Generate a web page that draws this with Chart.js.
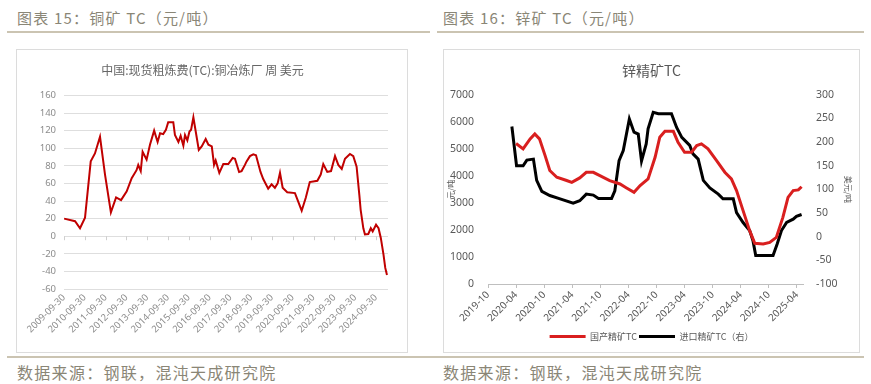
<!DOCTYPE html>
<html>
<head>
<meta charset="utf-8">
<script src="https://cdn.jsdelivr.net/npm/chart.js@4.4.1/dist/chart.umd.min.js"></script>
<style>
  body { margin: 0; background: #fff; width: 871px; height: 384px; overflow: hidden; position: relative; font-family: "Noto Sans CJK SC", sans-serif; }
  .cap { position: absolute; top: 8px; line-height: 20px; font-size: 15px; color: #8a8676; letter-spacing: 1.2px; white-space: nowrap; }
  .rule { position: absolute; height: 0; border-top: 2px solid #cbc4b2; }
  .box { position: absolute; top: 49px; border: 1px solid #dcdcdc; }
  .box canvas { display: block; }
  .src { position: absolute; top: 361px; line-height: 22px; font-size: 16px; color: #8a8676; letter-spacing: 1.3px; white-space: nowrap; }
</style>
</head>
<body>
<div class="cap" style="left:17px">图表 15：铜矿 TC（元/吨）</div>
<div class="cap" style="left:443px">图表 16：锌矿 TC（元/吨）</div>
<div class="rule" style="left:7px; top:31px; width:423px"></div>
<div class="rule" style="left:437px; top:31px; width:427px"></div>

<div class="box" style="left:16px"><canvas id="cu" width="390" height="302"></canvas></div>
<div class="box" style="left:443px"><canvas id="zn" width="415" height="302"></canvas></div>

<div class="rule" style="left:7px; top:356px; width:857px"></div>
<div class="src" style="left:17px">数据来源：钢联，混沌天成研究院</div>
<div class="src" style="left:443px">数据来源：钢联，混沌天成研究院</div>

<script>
// copper spot TC, USD (roughly one point per turn of the line)
const copperDates = [
  '2009-10-02', '2010-04-12', '2010-07-08', '2010-10-04', '2011-01-12', '2011-03-27', '2011-06-24', '2011-09-20',
  '2012-01-01', '2012-04-01', '2012-06-27', '2012-10-05', '2013-01-01', '2013-03-27', '2013-04-26', '2013-06-09',
  '2013-07-12', '2013-09-20', '2013-11-18', '2014-01-30', '2014-04-01', '2014-05-14', '2014-07-08', '2014-08-25',
  '2014-10-04', '2015-01-01', '2015-01-30', '2015-04-01', '2015-05-10', '2015-06-27', '2015-07-26', '2015-09-05',
  '2015-10-12', '2015-11-10', '2015-12-20', '2016-01-30', '2016-03-24', '2016-05-14', '2016-07-23', '2016-09-09',
  '2016-11-07', '2016-12-17', '2017-01-15', '2017-03-20', '2017-05-29', '2017-08-25', '2017-11-10', '2017-12-20',
  '2018-03-02', '2018-04-15', '2018-06-13', '2018-07-12', '2018-09-09', '2018-11-07', '2018-12-24', '2019-03-13',
  '2019-04-30', '2019-07-26', '2019-09-24', '2019-11-21', '2020-01-08', '2020-02-18', '2020-04-05', '2020-06-24',
  '2020-11-07', '2021-03-06', '2021-05-18', '2021-07-26', '2021-12-06', '2022-02-03', '2022-03-20', '2022-05-29',
  '2022-08-03', '2022-10-12', '2022-12-09', '2023-02-07', '2023-04-05', '2023-07-01', '2023-08-29', '2023-10-26',
  '2023-12-13', '2024-01-05', '2024-02-21', '2024-03-20', '2024-05-18', '2024-07-01', '2024-08-03', '2024-10-01',
  '2024-11-14', '2024-12-24', '2025-02-10', '2025-03-13', '2025-04-12'
];
const copperTC = [
  20, 17, 9, 21, 85, 94, 113, 70,
  27, 44, 41, 51, 66, 75, 81, 74,
  96, 87, 104, 120, 107, 117, 116, 121,
  129.5, 129.5, 115, 107, 114, 103, 115, 109,
  119, 121, 135, 119, 98, 102, 110.5, 104,
  102, 81, 86, 72, 82, 82, 89, 88,
  73, 74, 81, 85, 91, 93, 92, 73,
  65, 54, 59, 55, 60, 72, 55, 50,
  49, 29, 44, 61.5, 63, 70, 82, 73,
  74, 91, 81, 76.5, 88, 93.5, 91, 79,
  47, 30, 9, 2, 2.5, 9, 5.5, 13,
  9, -2, -21, -36, -44
];
const copperTicks = [
  '2009-09-30', '2010-09-30', '2011-09-30', '2012-09-30', '2013-09-30', '2014-09-30', '2015-09-30', '2016-09-30',
  '2017-09-30', '2018-09-30', '2019-09-30', '2020-09-30', '2021-09-30', '2022-09-30', '2023-09-30', '2024-09-30'
];

// zinc TC: domestic (yuan/t, left) and imported (USD/t, right)
const zincDomDates = [
  '2020-04-01', '2020-05-16', '2020-07-01', '2020-08-01', '2020-09-01', '2020-10-07', '2020-11-07', '2020-12-22',
  '2021-02-25', '2021-03-28', '2021-05-19', '2021-07-01', '2021-08-16', '2021-09-28', '2021-12-01', '2022-02-07',
  '2022-03-19', '2022-05-07', '2022-06-16', '2022-08-07', '2022-09-22', '2022-10-22', '2022-11-25', '2023-01-19',
  '2023-02-19', '2023-04-01', '2023-05-16', '2023-06-19', '2023-07-19', '2023-09-01', '2023-10-25', '2023-12-19',
  '2024-02-01', '2024-03-04', '2024-04-16', '2024-05-28', '2024-07-01', '2024-08-25', '2024-10-07', '2024-11-19',
  '2025-01-01', '2025-02-04', '2025-03-07', '2025-04-10', '2025-05-01'
];
const zincDomTC = [
  5200, 5000, 5370, 5555, 5370, 4750, 4200, 3950,
  3830, 3760, 3925, 4130, 4130, 4010, 3825, 3700,
  3555, 3390, 3640, 3890, 4690, 5430, 5650, 5650,
  5245, 4875, 4875, 5120, 5185, 5000, 4570, 4135,
  3890, 3455, 2715, 1975, 1505, 1480, 1540, 1725,
  2465, 3205, 3455, 3480, 3600
];
const zincImpDates = [
  '2020-03-04', '2020-04-04', '2020-05-16', '2020-06-10', '2020-07-22', '2020-08-13', '2020-09-16', '2020-11-07',
  '2021-01-13', '2021-04-07', '2021-05-19', '2021-07-01', '2021-08-16', '2021-09-19', '2021-12-13', '2022-01-04',
  '2022-02-01', '2022-02-28', '2022-04-07', '2022-05-07', '2022-06-04', '2022-06-25', '2022-07-25', '2022-08-07',
  '2022-09-10', '2022-10-13', '2023-01-07', '2023-02-10', '2023-03-13', '2023-05-04', '2023-05-25', '2023-06-28',
  '2023-08-01', '2023-09-13', '2023-11-07', '2023-12-07', '2024-02-13', '2024-03-04', '2024-04-16', '2024-05-28',
  '2024-06-19', '2024-07-07', '2024-10-28', '2024-11-25', '2024-12-22', '2025-01-25', '2025-03-07', '2025-03-28',
  '2025-05-01'
];
const zincImpTC = [
  233, 150, 150, 162, 164, 119, 96, 87,
  80, 71, 76, 90, 88, 81, 81, 97,
  161, 182, 249, 221, 217, 160, 196, 228,
  263, 260, 260, 231, 210, 193, 175, 164,
  119, 103, 90, 80, 80, 51, 30, 13,
  -8, -40, -40, -15, 13, 30, 37, 43,
  47
];
const zincTicks = [
  '2019-10', '2020-04', '2020-10', '2021-04', '2021-10', '2022-04',
  '2022-10', '2023-04', '2023-10', '2024-04', '2024-10', '2025-04'
];

function toYear(s) {
  const [y, m, d] = s.split('-').map(Number);
  return y + (Date.UTC(y, m - 1, d) - Date.UTC(y, 0, 1)) / (365.25 * 864e5);
}
function toMonth(s) {
  const [y, m, d] = s.split('-').map(Number);
  return (y - 2019) * 12 + (m - 10) + ((d || 1) - 1) / 30;
}

const numFont = '"Noto Sans", sans-serif';
const cjkFont = '"Noto Sans CJK SC", sans-serif';

// small tick marks on the zero line, like the Excel category axis
const zeroTicks = {
  id: 'zeroTicks',
  afterDatasetsDraw(chart) {
    const x = chart.scales.x, y0 = chart.scales.y.getPixelForValue(0);
    const ctx = chart.ctx;
    ctx.save();
    ctx.strokeStyle = '#cfcfcf';
    ctx.lineWidth = 1;
    x.ticks.forEach(t => {
      const px = Math.round(x.getPixelForValue(t.value)) + 0.5;
      ctx.beginPath();
      ctx.moveTo(px, y0);
      ctx.lineTo(px, y0 + 4);
      ctx.stroke();
    });
    ctx.restore();
  }
};

new Chart(document.getElementById('cu'), {
  type: 'line',
  data: {
    datasets: [{
      data: copperDates.map((d, i) => ({ x: toYear(d), y: copperTC[i] })),
      borderColor: '#c00000',
      borderWidth: 2,
      pointRadius: 0,
      tension: 0
    }]
  },
  options: {
    responsive: false,
    animation: false,
    devicePixelRatio: 1,
    layout: { padding: { left: 0, right: 19, top: 0, bottom: 0 } },
    plugins: {
      legend: { display: false },
      tooltip: { enabled: false },
      title: {
        display: true,
        text: '中国:现货粗炼费(TC):铜冶炼厂 周 美元',
        color: '#666666',
        font: { size: 12, family: cjkFont, weight: 'normal' },
        padding: { top: 13, bottom: 18 }
      }
    },
    scales: {
      x: {
        type: 'linear',
        min: toYear('2009-09-30'),
        max: toYear('2025-04-30'),
        afterBuildTicks: s => { s.ticks = copperTicks.map(t => ({ value: toYear(t) })); },
        ticks: {
          callback: (v, i) => copperTicks[i],
          autoSkip: false, maxRotation: 45, minRotation: 45,
          color: '#8c8c8c', font: { size: 9.5, family: numFont }, padding: 3
        },
        grid: { display: false, drawTicks: false },
        border: { display: false },
        afterFit: s => { s.height = 63; }
      },
      y: {
        min: -60,
        max: 160,
        ticks: { stepSize: 20, callback: v => String(v), color: '#8c8c8c', font: { size: 9.5, family: numFont }, padding: 8 },
        grid: { color: '#dedede', drawTicks: false },
        border: { display: false },
        afterFit: s => { s.width = 47; }
      }
    }
  },
  plugins: [zeroTicks]
});

new Chart(document.getElementById('zn'), {
  type: 'line',
  data: {
    datasets: [
      {
        label: '国产精矿TC',
        data: zincDomDates.map((d, i) => ({ x: toMonth(d), y: zincDomTC[i] })),
        borderColor: '#d91f1f',
        backgroundColor: '#d91f1f',
        borderWidth: 3,
        pointRadius: 0,
        yAxisID: 'y'
      },
      {
        label: '进口精矿TC（右）',
        data: zincImpDates.map((d, i) => ({ x: toMonth(d), y: zincImpTC[i] })),
        borderColor: '#000000',
        backgroundColor: '#000000',
        borderWidth: 3,
        pointRadius: 0,
        yAxisID: 'y1'
      }
    ]
  },
  options: {
    responsive: false,
    animation: false,
    devicePixelRatio: 1,
    layout: { padding: { left: 0, right: 0, top: 0, bottom: 1 } },
    plugins: {
      tooltip: { enabled: false },
      title: {
        display: true,
        text: '锌精矿TC',
        color: '#595959',
        font: { size: 14, family: cjkFont, weight: 'normal' },
        padding: { top: 12, bottom: 16 }
      },
      legend: {
        position: 'bottom',
        labels: {
          usePointStyle: true,
          pointStyle: 'line',
          pointStyleWidth: 36,
          color: '#595959',
          font: { size: 9, family: cjkFont },
          padding: 2
        }
      }
    },
    scales: {
      x: {
        type: 'linear',
        min: 0,
        max: 67.3,
        afterBuildTicks: s => { s.ticks = zincTicks.map(t => ({ value: toMonth(t + '-01') })); },
        ticks: {
          callback: (v, i) => zincTicks[i],
          autoSkip: false, maxRotation: 45, minRotation: 45,
          color: '#595959', font: { size: 10, family: numFont }, padding: 1
        },
        grid: { drawOnChartArea: false, color: '#bfbfbf', tickLength: 4 },
        border: { display: true, color: '#bfbfbf' },
        afterFit: s => { s.height = 46; }
      },
      y: {
        position: 'left',
        min: 0,
        max: 7000,
        ticks: { stepSize: 1000, callback: v => String(v), color: '#595959', font: { size: 10.5, family: numFont }, padding: 6 },
        grid: { display: false },
        border: { display: false },
        title: { display: true, text: '元/吨', color: '#595959', font: { size: 8, family: cjkFont }, padding: { top: 2, bottom: 0 } },
        afterFit: s => { s.width = 44; }
      },
      y1: {
        position: 'right',
        min: -100,
        max: 300,
        ticks: { stepSize: 50, callback: v => String(v), color: '#595959', font: { size: 10.5, family: numFont }, padding: 5 },
        grid: { display: false },
        border: { display: false },
        title: { display: true, text: '美元/吨', color: '#595959', font: { size: 8, family: cjkFont }, padding: { top: 6, bottom: 0 } },
        afterFit: s => { s.width = 56; }
      }
    }
  }
});
</script>
</body>
</html>
